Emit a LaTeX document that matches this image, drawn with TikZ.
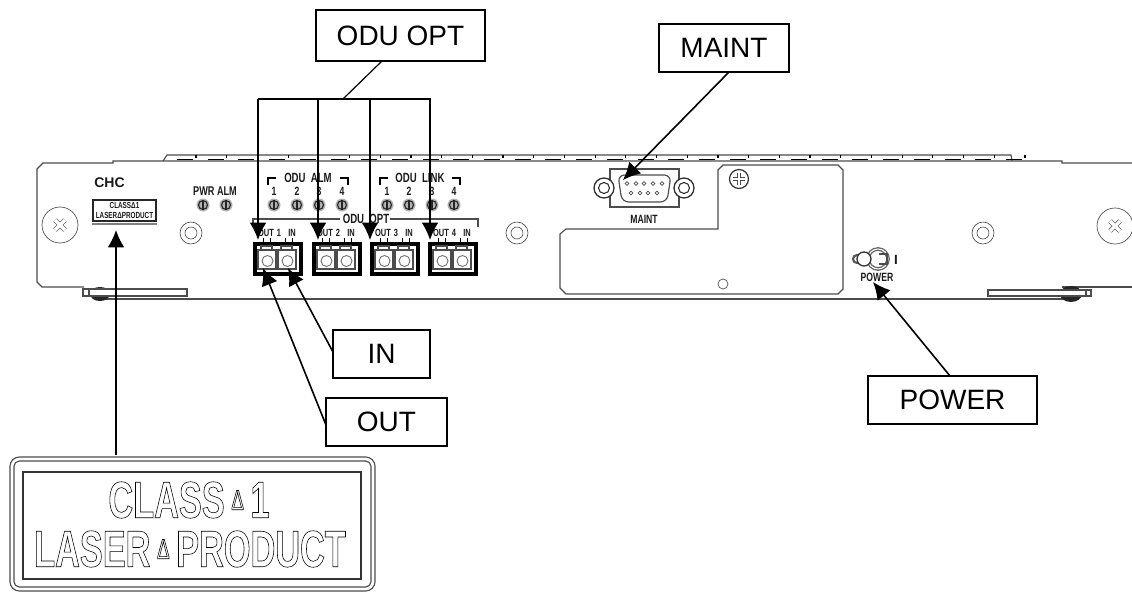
\documentclass[tikz,border=0pt]{standalone}
\usepackage{fontspec}
\usepackage{tikz}
\usetikzlibrary{arrows.meta}
\setmainfont{Liberation Sans}
\newfontfamily\panelfont[FakeStretch=0.72]{Liberation Sans}
\newfontfamily\signfont[FakeStretch=0.665]{Liberation Sans}
\newcommand{\strokeon}{\special{pdf:code 1 Tr 0.42 w}}
\newcommand{\strokeoff}{\special{pdf:code 0 Tr 1 w}}
\newcommand{\signtri}{\hspace{5pt}\raisebox{6pt}{\mdseries\fontsize{21}{21}\selectfont Δ}\hspace{5pt}}

\begin{document}
\begin{tikzpicture}[x=0.75pt,y=-0.75pt,
      panel/.style={line width=0.85pt,draw=black!70},
      thin part/.style={line width=0.5pt,draw=black!70},
      tiny/.style={inner sep=0pt,text=black!90,font=\panelfont\bfseries\fontsize{9}{9}\selectfont},
      porttiny/.style={tiny,font=\panelfont\bfseries\fontsize{7.8}{8}\selectfont},
      labelbox/.style={draw,line width=1.2pt,inner sep=0pt,font=\fontsize{21}{21}\selectfont},
      sign/.style={inner sep=0pt,text=black,font=\signfont\bfseries\fontsize{38.7}{39}\selectfont},
      pointer/.style={line width=1.2pt,-{Latex[length=13pt,width=12.5pt]}},
      bus/.style={line width=1.2pt}]
      \useasboundingbox (0,0) rectangle (1132,592);
      % front plate
      \draw[panel] (1132,163) -- (1062,163) -- (1062,161) -- (113,161) -- (113,163) -- (43,163)
        -- (37,169) -- (37,282) -- (42,287) -- (84,287);
      \draw[panel] (98,299) -- (1063,299);
      \draw[panel] (1062,287) -- (1132,287);
      \draw[panel] (163,161) -- (167,155) -- (1011,155) -- (1012,161);
      \foreach \x in {0,...,27} {
        \draw[line width=1.2pt] (\x*30.7+177,159.5) -- +(16,0);
        \draw[line width=0.9pt] (\x*30.7+196,155) -- +(0,3);
      }
      % rails
      \fill[black!85] (100,294) ellipse (10 and 7);
      \fill[black!85] (1071,294) ellipse (11 and 8);
      \draw[panel,fill=white] (83,289) rectangle (187,296);
      \draw[panel] (89,289) -- (89,296);
      \draw[panel,fill=white] (988,290) rectangle (1091,296);
      \draw[panel] (1086,290) -- (1086,296);
      % screws and rings
      \foreach \x/\y in {60/225,1115/226} {
        \draw[thin part] (\x,\y) circle (18);
        \draw[line width=3.6pt,black!60] (\x-5,\y-5) -- (\x+5,\y+5) (\x-5,\y+5) -- (\x+5,\y-5);
        \draw[line width=2.4pt,white] (\x-5,\y-5) -- (\x+5,\y+5) (\x-5,\y+5) -- (\x+5,\y-5);
      }
      \foreach \x in {191,517,983} {
        \draw[thin part] (\x,233) circle (11);
        \draw[thin part] (\x,233) circle (6);
      }
      % small label
      \node[tiny,font=\bfseries\fontsize{10.5}{10.5}\selectfont] (chc) at (109.5,183) {CHC};
      \draw[line width=1.9pt,black!85] (93,200) rectangle (156,221);
      \draw[black!50,line width=1.8pt] (92,224) -- (157,224);
      \node[tiny,font=\panelfont\bfseries\fontsize{6.6}{7.2}\selectfont,align=center] (small) at (124.5,210.5)
        {CLASSΔ1\\LASERΔPRODUCT};
      % lamps
      \node[tiny,font=\panelfont\bfseries\fontsize{9.5}{9.5}\selectfont] (pwr) at (215,191) {PWR ALM};
      \foreach \x in {203,226,274,297,319,342,387,409,432,454} {
        \fill[black!30] (\x,205) circle (6.5);
        \draw[line width=0.85pt,black!85] (\x,205) circle (4.5);
        \draw[line width=0.85pt,black!85] (\x,201) -- (\x,209);
      }
      \node[tiny,font=\panelfont\bfseries\fontsize{10}{10}\selectfont] (alm) at (308,178) {ODU\ \ ALM};
      \node[tiny,font=\panelfont\bfseries\fontsize{10}{10}\selectfont] (lnk) at (420,178) {ODU\ \ LINK};
      \foreach \x/\n in {274/1,297/2,319/3,342/4,387/1,409/2,432/3,454/4} {
        \node[tiny] (num\x) at (\x,191) {\n};
      }
      \foreach \x in {268,380} {
        \draw[line width=1.1pt] (\x,185) -- (\x,178) -- (\x+8,178);
      }
      \foreach \x in {340,452} {
        \draw[line width=1.1pt] (\x,178) -- (\x+8,178) -- (\x+8,185);
      }
      % optical ports
      \draw[panel] (253,227) -- (253,219) -- (340,219);
      \draw[panel] (390,219) -- (478,219) -- (478,227);
      \node[tiny,font=\panelfont\bfseries\fontsize{10}{10}\selectfont] (opt) at (366,219) {ODU\ \ OPT};
      \foreach \x/\n in {253/1,312/2,370/3,428/4} {
        \node[porttiny] (out\n) at (\x+13,233) {OUT};
        \node[porttiny] (no\n) at (\x+26,233) {\n};
        \node[porttiny] (in\n) at (\x+39,233) {IN};
        \foreach \t in {10,17,32,39} {
          \draw[line width=0.7pt] (\x+\t,238) -- +(0,4);
        }
        \draw[line width=3pt] (\x+1.5,244) rectangle (\x+48,274);
        \foreach \p in {5,25} {
          \draw[panel] (\x+\p,250) rectangle (\x+\p+18,269);
          \draw[panel] (\x+\p+3,250) -- (\x+\p+3,246) -- (\x+\p+14,246) -- (\x+\p+14,250);
          \draw[line width=0.7pt,black!55,fill=white] (\x+\p+9.5,261) circle (5.5);
        }
      }
      % maint port and cover
      \draw[panel] (610,169) rectangle (679,207);
      \draw[panel,rounded corners=5pt] (618,175) -- (671,175) -- (667,202) -- (622,202) -- cycle;
      \foreach \x in {604,684} {
        \draw[line width=1pt,black!80,fill=white] (\x,188) circle (10);
        \draw[line width=0.85pt,black!80] (\x,188) circle (5.5);
      }
      \foreach \x in {627,636,644,653,662} {
        \draw[thin part] (\x,183.5) circle (1.8);
      }
      \foreach \x in {631,640,648,657} {
        \draw[thin part] (\x,193) circle (1.8);
      }
      \node[tiny] (mnt) at (644,219) {MAINT};
      \draw[panel] (718,170) -- (723,165) -- (838,165) -- (843,170) -- (843,289) -- (838,294)
        -- (566,294) -- (560,288) -- (560,234) -- (566,229) -- (718,229) -- cycle;
      \draw[line width=0.9pt,black!80] (739,179) circle (9.5);
      \draw[line width=3.4pt,black!70] (733,179) -- (745,179) (739,173) -- (739,185);
      \draw[line width=2.2pt,white] (733,179) -- (745,179) (739,173) -- (739,185);
      \draw[thin part] (723,284) circle (5);
      % power switch
      \draw[line width=1.6pt,black!65] (857,259) circle (4);
      \draw[line width=1pt,black!60,double=white,double distance=0.8pt] (878,259) circle (10);
      \draw[line width=1pt,black!80,fill=white] (864,259) circle (7);
      \draw[panel] (879,254) -- (887,254) -- (887,264) -- (879,264);
      \node[tiny,font=\bfseries\fontsize{10}{10}\selectfont] (one) at (896,260) {I};
      \node[tiny] (pwrtxt) at (877,277) {POWER};
      % big label
      \draw[line width=0.85pt,black!70,rounded corners=7pt] (10,457) rectangle (375,591);
      \draw[line width=0.85pt,black!70,rounded corners=4pt] (14,461) rectangle (371,587);
      \draw[line width=0.9pt,black!80] (23,472) rectangle (361,579);
      \node[sign] (class) at (189,500) {\strokeon CLASS\signtri 1\strokeoff};
      \node[sign] (laser) at (190,549) {\strokeon LASER\signtri PRODUCT\strokeoff};
      % callouts
      \node[labelbox,minimum width=126.75pt,minimum height=38pt] (oduopt) at (400.5,35.5) {ODU OPT};
      \node[labelbox,minimum width=97.5pt,minimum height=36pt] (maint) at (724,48) {MAINT\hspace{7pt}};
      \node[labelbox,minimum width=72.75pt,minimum height=36pt] (in) at (381.5,354) {IN};
      \node[labelbox,minimum width=90.75pt,minimum height=36pt] (out) at (386.5,422) {OUT};
      \node[labelbox,minimum width=126.75pt,minimum height=36pt] (power) at (952.5,400) {POWER};
      \coordinate (tap) at (382,61);
      \coordinate (mid) at (343,99);
      \coordinate (busl) at (258,99);
      \coordinate (busr) at (431,99);
      \draw[line width=0.9pt] (tap) -- (mid);
      \draw[bus] (busl) -- (busr);
      \foreach \x/\n in {258/a,318/b,370/c,430/d} {
        \coordinate (top\n) at (\x,99);
        \coordinate (tip\n) at (\x,240);
        \draw[pointer] (top\n) -- (tip\n);
      }
      \coordinate (mainttail) at (729,72);
      \coordinate (mainttip) at (623,180);
      \draw[pointer] (mainttail) -- (mainttip);
      \coordinate (intail) at (333,352);
      \coordinate (intip) at (288,268);
      \draw[pointer] (intail) -- (intip);
      \coordinate (outtail) at (326,425);
      \coordinate (outtip) at (263,268);
      \draw[pointer] (outtail) -- (outtip);
      \coordinate (powertail) at (950,376);
      \coordinate (powertip) at (873,282);
      \draw[pointer] (powertail) -- (powertip);
      \coordinate (labeltail) at (116,455);
      \coordinate (labeltip) at (116,230);
      \draw[pointer] (labeltail) -- (labeltip);
    \end{tikzpicture}
\end{document}
